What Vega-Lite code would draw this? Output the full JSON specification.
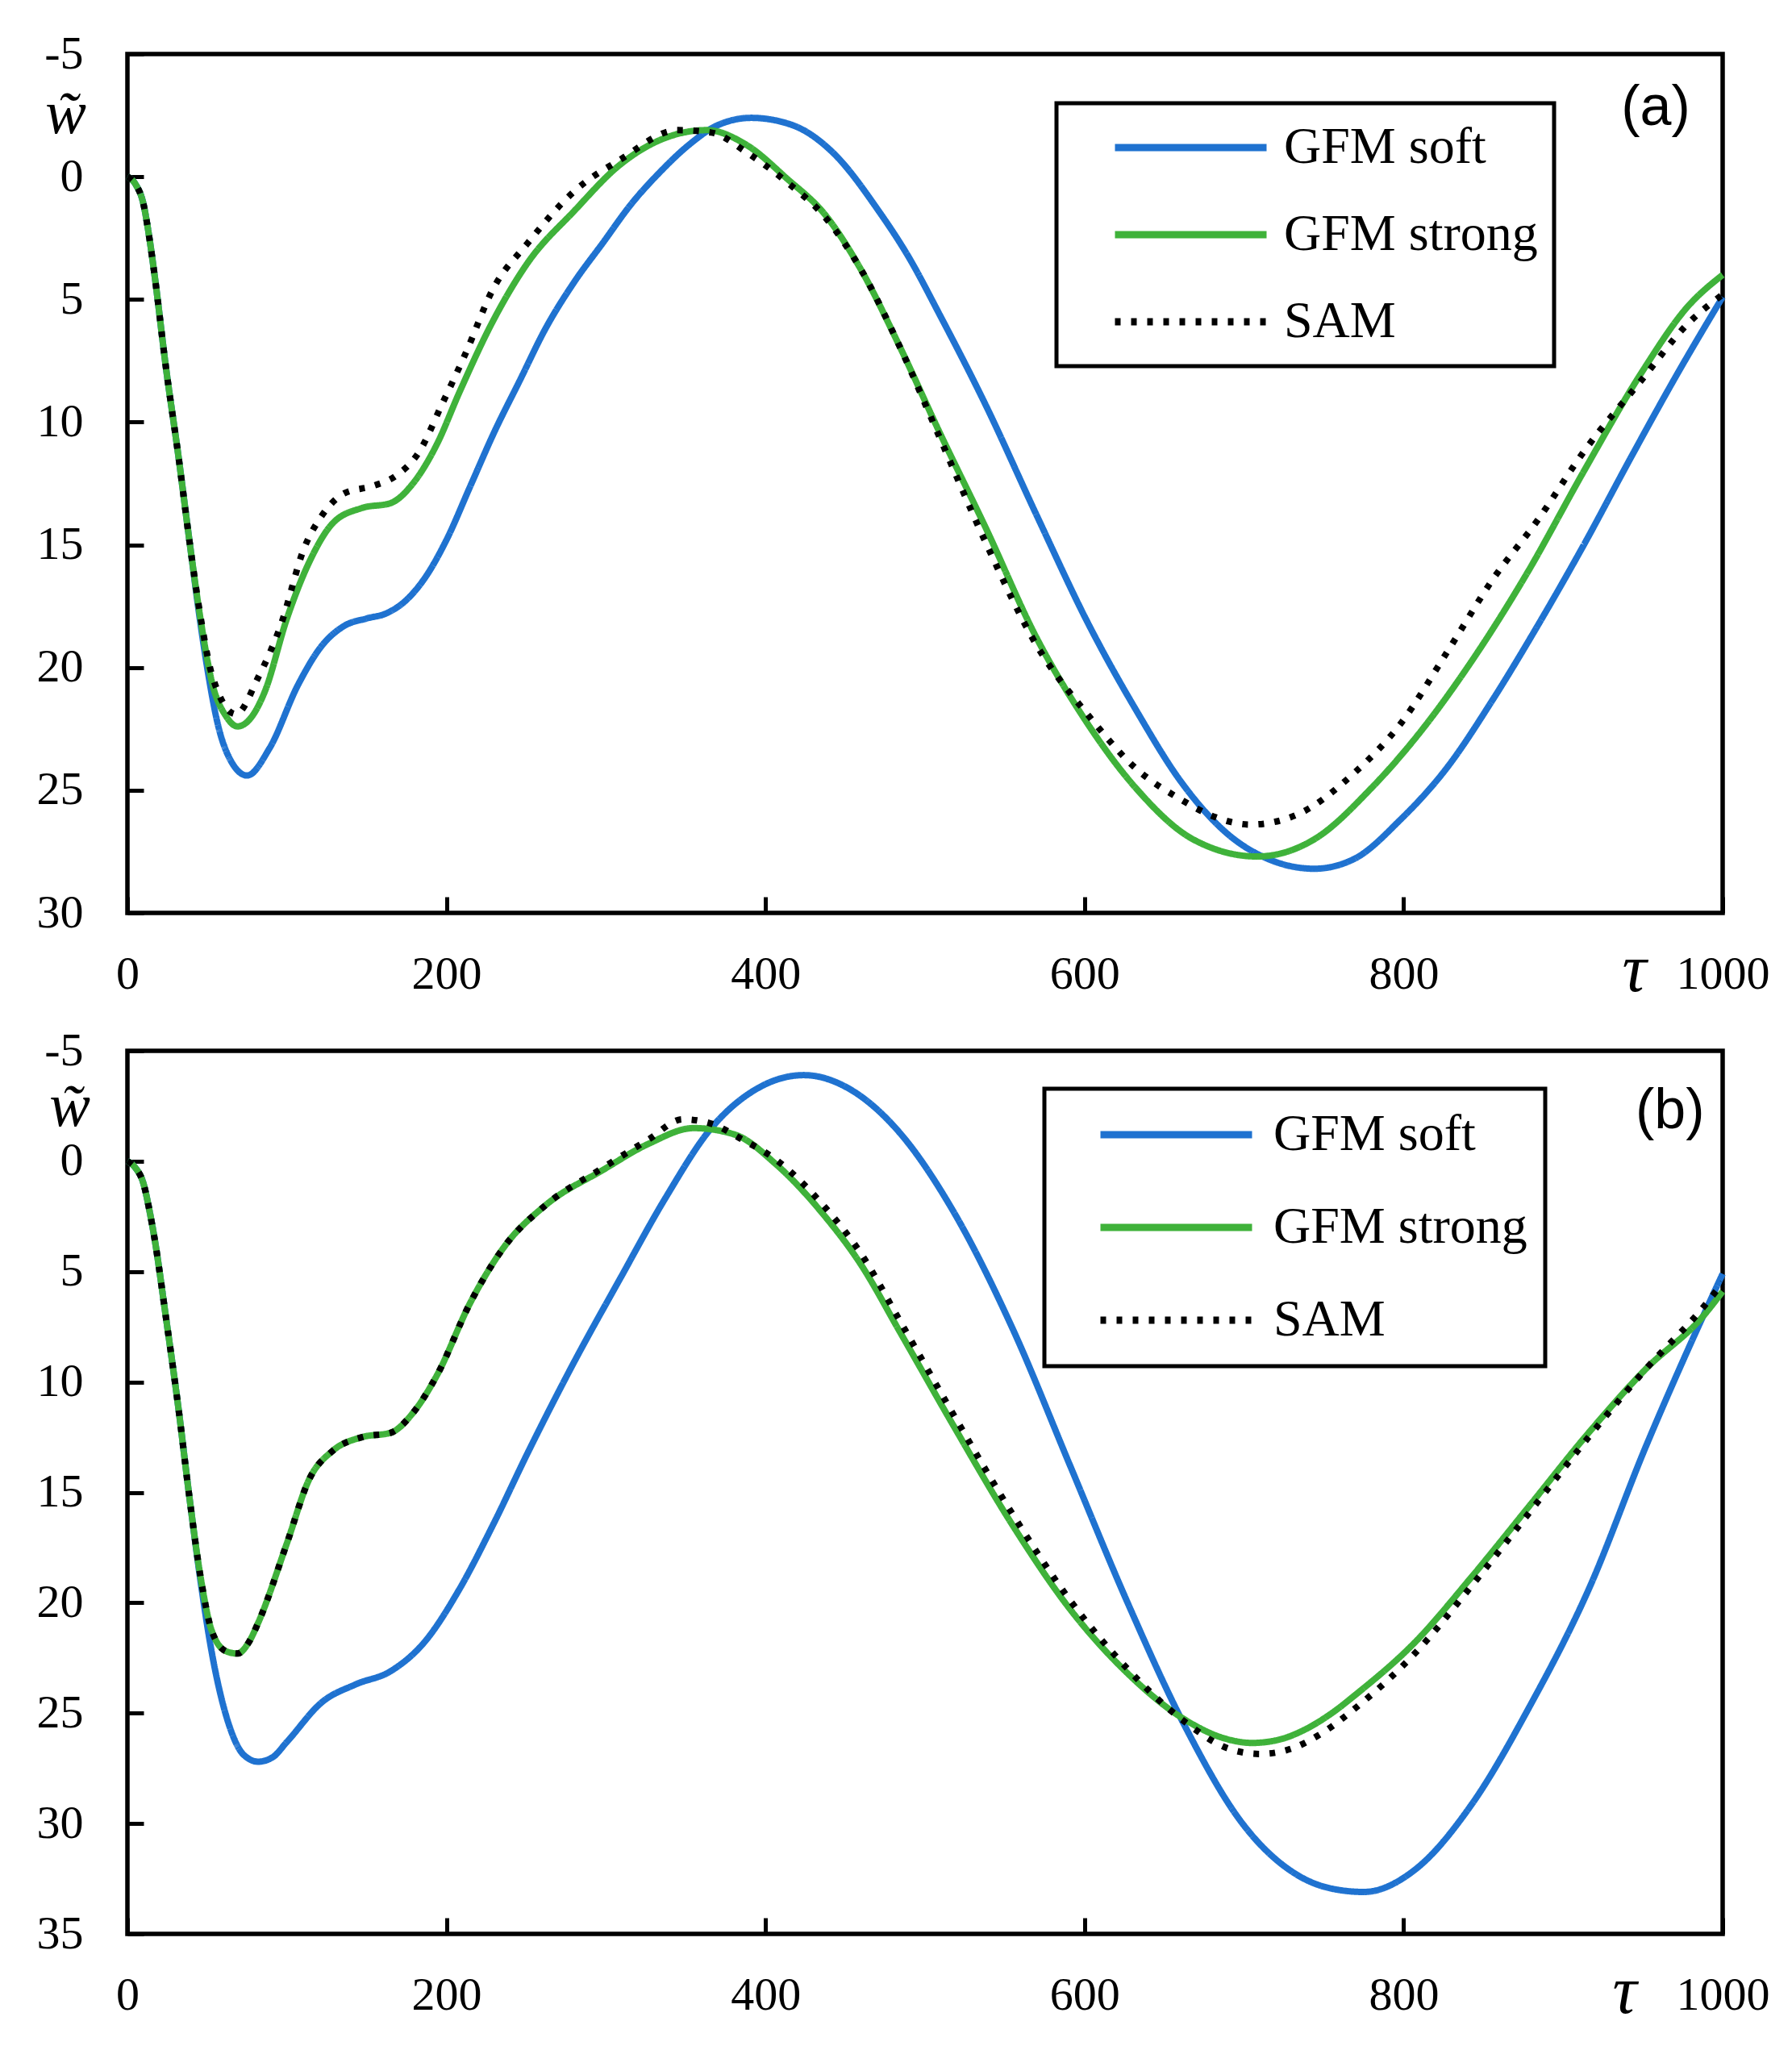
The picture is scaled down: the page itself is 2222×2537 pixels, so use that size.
{
  "$schema": "https://vega.github.io/schema/vega-lite/v6.json",
  "background": "white",
  "padding": {"left": 42, "top": 35, "right": 20, "bottom": 20},
  "config": {
    "view": {"stroke": "black", "strokeWidth": 5.5},
    "font": "Liberation Serif",
    "axis": {
      "grid": false,
      "domain": false,
      "tickColor": "black",
      "tickWidth": 5,
      "tickSize": -20,
      "labelFont": "Liberation Serif",
      "labelFontSize": 58,
      "labelColor": "black",
      "labelFlush": false,
      "labelOverlap": false,
      "labelBound": false,
      "labelExpr": "'' + datum.value",
      "titleFont": "Liberation Serif",
      "titleFontStyle": "italic",
      "titleFontWeight": "normal",
      "titleColor": "black",
      "titleAngle": 0,
      "titleBaseline": "alphabetic",
      "titleAlign": "center"
    },
    "legend": {
      "strokeColor": "black",
      "symbolType": "stroke",
      "symbolSize": 35344,
      "symbolStrokeWidth": 9,
      "labelFont": "Liberation Serif",
      "labelFontSize": 64,
      "labelColor": "black",
      "labelLimit": 1000,
      "clipHeight": 70
    }
  },
  "datasets": {
    "a": [
      {"s": "GFM soft", "t": 0, "w": 0}, {"s": "GFM soft", "t": 5, "w": 0.3}, {"s": "GFM soft", "t": 10, "w": 1.1}, {"s": "GFM soft", "t": 14, "w": 2.6},
      {"s": "GFM soft", "t": 17, "w": 4.0}, {"s": "GFM soft", "t": 24, "w": 7.7},
      {"s": "GFM soft", "t": 32, "w": 11.4}, {"s": "GFM soft", "t": 39, "w": 14.9}, {"s": "GFM soft", "t": 46, "w": 18.3}, {"s": "GFM soft", "t": 50, "w": 20.0},
      {"s": "GFM soft", "t": 57, "w": 22.4}, {"s": "GFM soft", "t": 64, "w": 23.7}, {"s": "GFM soft", "t": 75, "w": 24.4}, {"s": "GFM soft", "t": 89, "w": 23.3}, {"s": "GFM soft", "t": 107, "w": 20.7},
      {"s": "GFM soft", "t": 122, "w": 19.1}, {"s": "GFM soft", "t": 136, "w": 18.3}, {"s": "GFM soft", "t": 150, "w": 18.0}, {"s": "GFM soft", "t": 162, "w": 17.8},
      {"s": "GFM soft", "t": 174, "w": 17.3}, {"s": "GFM soft", "t": 187, "w": 16.3}, {"s": "GFM soft", "t": 200, "w": 14.8}, {"s": "GFM soft", "t": 215, "w": 12.6},
      {"s": "GFM soft", "t": 230, "w": 10.4}, {"s": "GFM soft", "t": 246, "w": 8.3}, {"s": "GFM soft", "t": 262, "w": 6.2}, {"s": "GFM soft", "t": 280, "w": 4.3},
      {"s": "GFM soft", "t": 298, "w": 2.7}, {"s": "GFM soft", "t": 316, "w": 1.1}, {"s": "GFM soft", "t": 334, "w": -0.2}, {"s": "GFM soft", "t": 352, "w": -1.3},
      {"s": "GFM soft", "t": 370, "w": -2.1}, {"s": "GFM soft", "t": 391, "w": -2.4}, {"s": "GFM soft", "t": 417, "w": -2.1}, {"s": "GFM soft", "t": 442, "w": -1.0},
      {"s": "GFM soft", "t": 471, "w": 1.4}, {"s": "GFM soft", "t": 490, "w": 3.3}, {"s": "GFM soft", "t": 509, "w": 5.6}, {"s": "GFM soft", "t": 538, "w": 9.3},
      {"s": "GFM soft", "t": 570, "w": 13.8}, {"s": "GFM soft", "t": 603, "w": 18.3}, {"s": "GFM soft", "t": 632, "w": 21.7}, {"s": "GFM soft", "t": 661, "w": 24.7},
      {"s": "GFM soft", "t": 690, "w": 26.8}, {"s": "GFM soft", "t": 715, "w": 27.8}, {"s": "GFM soft", "t": 744, "w": 28.2}, {"s": "GFM soft", "t": 769, "w": 27.8},
      {"s": "GFM soft", "t": 798, "w": 26.2}, {"s": "GFM soft", "t": 827, "w": 24.1}, {"s": "GFM soft", "t": 856, "w": 21.3}, {"s": "GFM soft", "t": 884, "w": 18.3},
      {"s": "GFM soft", "t": 913, "w": 15.0}, {"s": "GFM soft", "t": 942, "w": 11.5}, {"s": "GFM soft", "t": 971, "w": 8.1}, {"s": "GFM soft", "t": 1000, "w": 4.9},
      {"s": "GFM strong", "t": 0, "w": 0}, {"s": "GFM strong", "t": 5, "w": 0.3}, {"s": "GFM strong", "t": 10, "w": 1.1}, {"s": "GFM strong", "t": 14, "w": 2.6},
      {"s": "GFM strong", "t": 17, "w": 4.0}, {"s": "GFM strong", "t": 24, "w": 7.7},
      {"s": "GFM strong", "t": 32, "w": 11.4}, {"s": "GFM strong", "t": 39, "w": 14.9}, {"s": "GFM strong", "t": 46, "w": 18.1}, {"s": "GFM strong", "t": 53, "w": 20.6},
      {"s": "GFM strong", "t": 62, "w": 22.0}, {"s": "GFM strong", "t": 69, "w": 22.4}, {"s": "GFM strong", "t": 78, "w": 22.0}, {"s": "GFM strong", "t": 86, "w": 21.0},
      {"s": "GFM strong", "t": 100, "w": 18.0}, {"s": "GFM strong", "t": 114, "w": 15.7}, {"s": "GFM strong", "t": 129, "w": 14.1}, {"s": "GFM strong", "t": 147, "w": 13.5},
      {"s": "GFM strong", "t": 165, "w": 13.3}, {"s": "GFM strong", "t": 179, "w": 12.5}, {"s": "GFM strong", "t": 194, "w": 10.9}, {"s": "GFM strong", "t": 208, "w": 8.8},
      {"s": "GFM strong", "t": 229, "w": 5.9}, {"s": "GFM strong", "t": 251, "w": 3.5}, {"s": "GFM strong", "t": 280, "w": 1.4}, {"s": "GFM strong", "t": 309, "w": -0.5},
      {"s": "GFM strong", "t": 334, "w": -1.5}, {"s": "GFM strong", "t": 363, "w": -1.9}, {"s": "GFM strong", "t": 388, "w": -1.3}, {"s": "GFM strong", "t": 413, "w": 0.05},
      {"s": "GFM strong", "t": 438, "w": 1.6}, {"s": "GFM strong", "t": 460, "w": 3.8}, {"s": "GFM strong", "t": 484, "w": 6.9}, {"s": "GFM strong", "t": 509, "w": 10.4},
      {"s": "GFM strong", "t": 538, "w": 14.3}, {"s": "GFM strong", "t": 570, "w": 18.8}, {"s": "GFM strong", "t": 599, "w": 22.0}, {"s": "GFM strong", "t": 632, "w": 24.9},
      {"s": "GFM strong", "t": 668, "w": 27.0}, {"s": "GFM strong", "t": 708, "w": 27.7}, {"s": "GFM strong", "t": 744, "w": 27.0}, {"s": "GFM strong", "t": 780, "w": 24.9},
      {"s": "GFM strong", "t": 812, "w": 22.5}, {"s": "GFM strong", "t": 841, "w": 19.9}, {"s": "GFM strong", "t": 877, "w": 16.2}, {"s": "GFM strong", "t": 913, "w": 12.0},
      {"s": "GFM strong", "t": 949, "w": 8.0}, {"s": "GFM strong", "t": 978, "w": 5.3}, {"s": "GFM strong", "t": 1000, "w": 4.0},
      {"s": "SAM", "t": 0, "w": 0}, {"s": "SAM", "t": 5, "w": 0.3}, {"s": "SAM", "t": 10, "w": 1.1}, {"s": "SAM", "t": 14, "w": 2.6},
      {"s": "SAM", "t": 17, "w": 4.0}, {"s": "SAM", "t": 24, "w": 7.7},
      {"s": "SAM", "t": 32, "w": 11.4}, {"s": "SAM", "t": 39, "w": 14.9}, {"s": "SAM", "t": 46, "w": 18.0}, {"s": "SAM", "t": 53, "w": 20.3},
      {"s": "SAM", "t": 68, "w": 21.9}, {"s": "SAM", "t": 82, "w": 20.4}, {"s": "SAM", "t": 96, "w": 18.3}, {"s": "SAM", "t": 111, "w": 15.1},
      {"s": "SAM", "t": 122, "w": 13.8}, {"s": "SAM", "t": 136, "w": 12.9}, {"s": "SAM", "t": 154, "w": 12.6}, {"s": "SAM", "t": 168, "w": 12.2},
      {"s": "SAM", "t": 183, "w": 11.2}, {"s": "SAM", "t": 197, "w": 9.3}, {"s": "SAM", "t": 212, "w": 7.2}, {"s": "SAM", "t": 229, "w": 4.6},
      {"s": "SAM", "t": 251, "w": 2.7}, {"s": "SAM", "t": 280, "w": 0.6}, {"s": "SAM", "t": 309, "w": -0.7}, {"s": "SAM", "t": 345, "w": -1.9},
      {"s": "SAM", "t": 366, "w": -1.8}, {"s": "SAM", "t": 388, "w": -1.0}, {"s": "SAM", "t": 413, "w": 0.2}, {"s": "SAM", "t": 438, "w": 1.7},
      {"s": "SAM", "t": 460, "w": 3.8}, {"s": "SAM", "t": 484, "w": 6.9}, {"s": "SAM", "t": 509, "w": 10.6}, {"s": "SAM", "t": 538, "w": 14.9},
      {"s": "SAM", "t": 570, "w": 19.1}, {"s": "SAM", "t": 603, "w": 22.0}, {"s": "SAM", "t": 632, "w": 24.1}, {"s": "SAM", "t": 661, "w": 25.4},
      {"s": "SAM", "t": 682, "w": 26.1}, {"s": "SAM", "t": 704, "w": 26.4}, {"s": "SAM", "t": 733, "w": 26.0}, {"s": "SAM", "t": 769, "w": 24.3},
      {"s": "SAM", "t": 798, "w": 22.3}, {"s": "SAM", "t": 827, "w": 19.4}, {"s": "SAM", "t": 856, "w": 16.4}, {"s": "SAM", "t": 884, "w": 14.0},
      {"s": "SAM", "t": 913, "w": 11.2}, {"s": "SAM", "t": 949, "w": 8.3}, {"s": "SAM", "t": 978, "w": 6.0}, {"s": "SAM", "t": 1000, "w": 4.8}
    ],
    "b": [
      {"s": "GFM soft", "t": 0, "w": 0}, {"s": "GFM soft", "t": 5, "w": 0.3}, {"s": "GFM soft", "t": 10, "w": 1.0}, {"s": "GFM soft", "t": 14, "w": 2.3},
      {"s": "GFM soft", "t": 17, "w": 3.5}, {"s": "GFM soft", "t": 24, "w": 7.0},
      {"s": "GFM soft", "t": 32, "w": 11.2}, {"s": "GFM soft", "t": 39, "w": 15.3}, {"s": "GFM soft", "t": 46, "w": 19.1}, {"s": "GFM soft", "t": 53, "w": 22.3},
      {"s": "GFM soft", "t": 64, "w": 25.6}, {"s": "GFM soft", "t": 73, "w": 26.9}, {"s": "GFM soft", "t": 82, "w": 27.2}, {"s": "GFM soft", "t": 91, "w": 27.0},
      {"s": "GFM soft", "t": 100, "w": 26.3}, {"s": "GFM soft", "t": 122, "w": 24.5}, {"s": "GFM soft", "t": 143, "w": 23.7}, {"s": "GFM soft", "t": 165, "w": 23.1},
      {"s": "GFM soft", "t": 186, "w": 21.8}, {"s": "GFM soft", "t": 208, "w": 19.4}, {"s": "GFM soft", "t": 229, "w": 16.5}, {"s": "GFM soft", "t": 251, "w": 13.2},
      {"s": "GFM soft", "t": 280, "w": 9.1}, {"s": "GFM soft", "t": 309, "w": 5.3}, {"s": "GFM soft", "t": 337, "w": 1.7}, {"s": "GFM soft", "t": 366, "w": -1.5},
      {"s": "GFM soft", "t": 395, "w": -3.3}, {"s": "GFM soft", "t": 424, "w": -3.9}, {"s": "GFM soft", "t": 452, "w": -3.3}, {"s": "GFM soft", "t": 484, "w": -1.3},
      {"s": "GFM soft", "t": 518, "w": 2.3}, {"s": "GFM soft", "t": 555, "w": 7.6}, {"s": "GFM soft", "t": 591, "w": 13.8}, {"s": "GFM soft", "t": 627, "w": 20.0},
      {"s": "GFM soft", "t": 663, "w": 25.6}, {"s": "GFM soft", "t": 699, "w": 30.0}, {"s": "GFM soft", "t": 735, "w": 32.4}, {"s": "GFM soft", "t": 755, "w": 32.95},
      {"s": "GFM soft", "t": 775, "w": 33.1},
      {"s": "GFM soft", "t": 807, "w": 32.1}, {"s": "GFM soft", "t": 843, "w": 29.1}, {"s": "GFM soft", "t": 879, "w": 24.7}, {"s": "GFM soft", "t": 916, "w": 19.4},
      {"s": "GFM soft", "t": 952, "w": 12.9}, {"s": "GFM soft", "t": 976, "w": 8.9}, {"s": "GFM soft", "t": 1000, "w": 5.1},
      {"s": "GFM strong", "t": 0, "w": 0}, {"s": "GFM strong", "t": 5, "w": 0.3}, {"s": "GFM strong", "t": 10, "w": 1.0}, {"s": "GFM strong", "t": 14, "w": 2.3},
      {"s": "GFM strong", "t": 17, "w": 3.5}, {"s": "GFM strong", "t": 24, "w": 7.0},
      {"s": "GFM strong", "t": 32, "w": 11.2}, {"s": "GFM strong", "t": 39, "w": 15.3}, {"s": "GFM strong", "t": 46, "w": 18.9}, {"s": "GFM strong", "t": 53, "w": 21.3},
      {"s": "GFM strong", "t": 62, "w": 22.2}, {"s": "GFM strong", "t": 69, "w": 22.3}, {"s": "GFM strong", "t": 76, "w": 21.8}, {"s": "GFM strong", "t": 82, "w": 20.9},
      {"s": "GFM strong", "t": 100, "w": 17.3}, {"s": "GFM strong", "t": 114, "w": 14.4}, {"s": "GFM strong", "t": 129, "w": 13.1}, {"s": "GFM strong", "t": 147, "w": 12.5},
      {"s": "GFM strong", "t": 165, "w": 12.3}, {"s": "GFM strong", "t": 179, "w": 11.4}, {"s": "GFM strong", "t": 194, "w": 9.7}, {"s": "GFM strong", "t": 215, "w": 6.4},
      {"s": "GFM strong", "t": 237, "w": 3.8}, {"s": "GFM strong", "t": 262, "w": 2.0}, {"s": "GFM strong", "t": 298, "w": 0.4}, {"s": "GFM strong", "t": 327, "w": -0.8},
      {"s": "GFM strong", "t": 355, "w": -1.5}, {"s": "GFM strong", "t": 381, "w": -1.2}, {"s": "GFM strong", "t": 406, "w": 0.1}, {"s": "GFM strong", "t": 435, "w": 2.3},
      {"s": "GFM strong", "t": 460, "w": 4.7}, {"s": "GFM strong", "t": 484, "w": 7.7}, {"s": "GFM strong", "t": 518, "w": 12.0}, {"s": "GFM strong", "t": 555, "w": 16.5},
      {"s": "GFM strong", "t": 591, "w": 20.3}, {"s": "GFM strong", "t": 627, "w": 23.2}, {"s": "GFM strong", "t": 663, "w": 25.3}, {"s": "GFM strong", "t": 688, "w": 26.15},
      {"s": "GFM strong", "t": 705, "w": 26.35}, {"s": "GFM strong", "t": 722, "w": 26.2}, {"s": "GFM strong", "t": 738, "w": 25.75}, {"s": "GFM strong", "t": 755, "w": 25.0}, {"s": "GFM strong", "t": 771, "w": 24.1},
      {"s": "GFM strong", "t": 807, "w": 21.8}, {"s": "GFM strong", "t": 843, "w": 18.8},
      {"s": "GFM strong", "t": 879, "w": 15.6}, {"s": "GFM strong", "t": 916, "w": 12.3}, {"s": "GFM strong", "t": 952, "w": 9.4}, {"s": "GFM strong", "t": 988, "w": 7.0},
      {"s": "GFM strong", "t": 1000, "w": 5.9},
      {"s": "SAM", "t": 0, "w": 0}, {"s": "SAM", "t": 5, "w": 0.3}, {"s": "SAM", "t": 10, "w": 1.0}, {"s": "SAM", "t": 14, "w": 2.3},
      {"s": "SAM", "t": 17, "w": 3.5}, {"s": "SAM", "t": 24, "w": 7.0},
      {"s": "SAM", "t": 32, "w": 11.2}, {"s": "SAM", "t": 39, "w": 15.3}, {"s": "SAM", "t": 46, "w": 18.9}, {"s": "SAM", "t": 53, "w": 21.3},
      {"s": "SAM", "t": 62, "w": 22.2}, {"s": "SAM", "t": 69, "w": 22.3}, {"s": "SAM", "t": 76, "w": 21.8}, {"s": "SAM", "t": 82, "w": 20.9},
      {"s": "SAM", "t": 100, "w": 17.3}, {"s": "SAM", "t": 114, "w": 14.4}, {"s": "SAM", "t": 129, "w": 13.1}, {"s": "SAM", "t": 147, "w": 12.5},
      {"s": "SAM", "t": 165, "w": 12.3}, {"s": "SAM", "t": 179, "w": 11.4}, {"s": "SAM", "t": 194, "w": 9.7}, {"s": "SAM", "t": 215, "w": 6.4},
      {"s": "SAM", "t": 237, "w": 3.8}, {"s": "SAM", "t": 262, "w": 2.0}, {"s": "SAM", "t": 298, "w": 0.3}, {"s": "SAM", "t": 327, "w": -1.0},
      {"s": "SAM", "t": 348, "w": -1.9}, {"s": "SAM", "t": 366, "w": -1.7}, {"s": "SAM", "t": 385, "w": -1.0}, {"s": "SAM", "t": 406, "w": -0.1},
      {"s": "SAM", "t": 435, "w": 1.9}, {"s": "SAM", "t": 460, "w": 4.2}, {"s": "SAM", "t": 484, "w": 7.2}, {"s": "SAM", "t": 518, "w": 11.5},
      {"s": "SAM", "t": 555, "w": 16.0}, {"s": "SAM", "t": 591, "w": 19.9}, {"s": "SAM", "t": 627, "w": 23.0}, {"s": "SAM", "t": 663, "w": 25.4},
      {"s": "SAM", "t": 690, "w": 26.6}, {"s": "SAM", "t": 710, "w": 26.85}, {"s": "SAM", "t": 730, "w": 26.6}, {"s": "SAM", "t": 750, "w": 25.85},
      {"s": "SAM", "t": 771, "w": 24.7}, {"s": "SAM", "t": 807, "w": 22.3}, {"s": "SAM", "t": 843, "w": 19.2}, {"s": "SAM", "t": 879, "w": 15.9}, {"s": "SAM", "t": 916, "w": 12.5},
      {"s": "SAM", "t": 952, "w": 9.4}, {"s": "SAM", "t": 988, "w": 6.6}, {"s": "SAM", "t": 1000, "w": 5.5}
    ]
  },
  "spacing": 171,
  "bounds": "flush",
  "resolve": {
    "scale": {"color": "independent", "strokeDash": "independent", "x": "independent", "y": "independent"},
    "legend": {"color": "independent", "strokeDash": "independent"}
  },
  "vconcat": [
    {
      "width": 1978,
      "height": 1065,
      "encoding": {
        "x": {
          "field": "t", "type": "quantitative",
          "scale": {"domain": [0, 1000], "nice": false},
          "axis": {"values": [0, 200, 400, 600, 800, 1000], "labelBaseline": "alphabetic", "labelPadding": 113, "title": "τ", "titleFontSize": 84, "titleX": 1868, "titleY": 96}
        },
        "y": {
          "field": "w", "type": "quantitative",
          "scale": {"domain": [-5, 30], "reverse": true, "nice": false, "zero": false},
          "axis": {"values": [-5, 0, 5, 10, 15, 20, 25, 30], "labelPadding": 75, "title": "w̃", "titleFontSize": 76, "titleX": -77, "titleY": 97}
        }
      },
      "layer": [
        {
          "data": {"name": "a"},
          "mark": {"type": "line", "interpolate": "monotone", "strokeWidth": 8, "strokeCap": "butt"},
          "encoding": {
            "color": {
              "field": "s", "type": "nominal",
              "scale": {"domain": ["GFM soft", "GFM strong", "SAM"], "range": ["#1f72d0", "#3fb23a", "#000000"]},
              "legend": {"title": null, "orient": "none", "legendX": 1152, "legendY": 61, "padding": 20, "symbolOffset": 48, "labelOffset": 17, "rowPadding": 38, "labelExpr": "datum.label + '\u00a0'", "encode": {"legend": {"update": {"strokeWidth": {"value": 5}}}}}
            },
            "strokeDash": {
              "field": "s", "type": "nominal",
              "scale": {"domain": ["GFM soft", "GFM strong", "SAM"], "range": [[1, 0], [1, 0], [7, 13]]},
              "legend": {"title": null, "orient": "none", "legendX": 1152, "legendY": 61, "padding": 20, "symbolOffset": 48, "labelOffset": 17, "rowPadding": 38, "labelExpr": "datum.label + '\u00a0'"}
            }
          }
        },
        {
          "data": {"values": [{"t": 958, "w": -2.8, "label": "(a)"}]},
          "mark": {"type": "text", "font": "Liberation Sans", "fontSize": 70, "align": "center", "baseline": "middle", "color": "black"},
          "encoding": {"text": {"field": "label"}}
        }
      ]
    },
    {
      "width": 1978,
      "height": 1095,
      "encoding": {
        "x": {
          "field": "t", "type": "quantitative",
          "scale": {"domain": [0, 1000], "nice": false},
          "axis": {"values": [0, 200, 400, 600, 800, 1000], "labelBaseline": "alphabetic", "labelPadding": 113, "title": "τ", "titleFontSize": 84, "titleX": 1856, "titleY": 97}
        },
        "y": {
          "field": "w", "type": "quantitative",
          "scale": {"domain": [-5, 35], "reverse": true, "nice": false, "zero": false},
          "axis": {"values": [-5, 0, 5, 10, 15, 20, 25, 30, 35], "labelPadding": 75, "title": "w̃", "titleFontSize": 76, "titleX": -72, "titleY": 92}
        }
      },
      "layer": [
        {
          "data": {"name": "b"},
          "mark": {"type": "line", "interpolate": "monotone", "strokeWidth": 8, "strokeCap": "butt"},
          "encoding": {
            "color": {
              "field": "s", "type": "nominal",
              "scale": {"domain": ["GFM soft", "GFM strong", "SAM"], "range": ["#1f72d0", "#3fb23a", "#000000"]},
              "legend": {"title": null, "orient": "none", "legendX": 1137, "legendY": 47, "padding": 22, "symbolOffset": 43, "labelOffset": 22, "rowPadding": 45, "labelExpr": "datum.label + '\u00a0\u00a0\u00a0'", "encode": {"legend": {"update": {"strokeWidth": {"value": 5}}}}}
            },
            "strokeDash": {
              "field": "s", "type": "nominal",
              "scale": {"domain": ["GFM soft", "GFM strong", "SAM"], "range": [[1, 0], [1, 0], [7, 13]]},
              "legend": {"title": null, "orient": "none", "legendX": 1137, "legendY": 47, "padding": 22, "symbolOffset": 43, "labelOffset": 22, "rowPadding": 45, "labelExpr": "datum.label + '\u00a0\u00a0\u00a0'"}
            }
          }
        },
        {
          "data": {"values": [{"t": 967, "w": -2.26, "label": "(b)"}]},
          "mark": {"type": "text", "font": "Liberation Sans", "fontSize": 70, "align": "center", "baseline": "middle", "color": "black"},
          "encoding": {"text": {"field": "label"}}
        }
      ]
    }
  ]
}
